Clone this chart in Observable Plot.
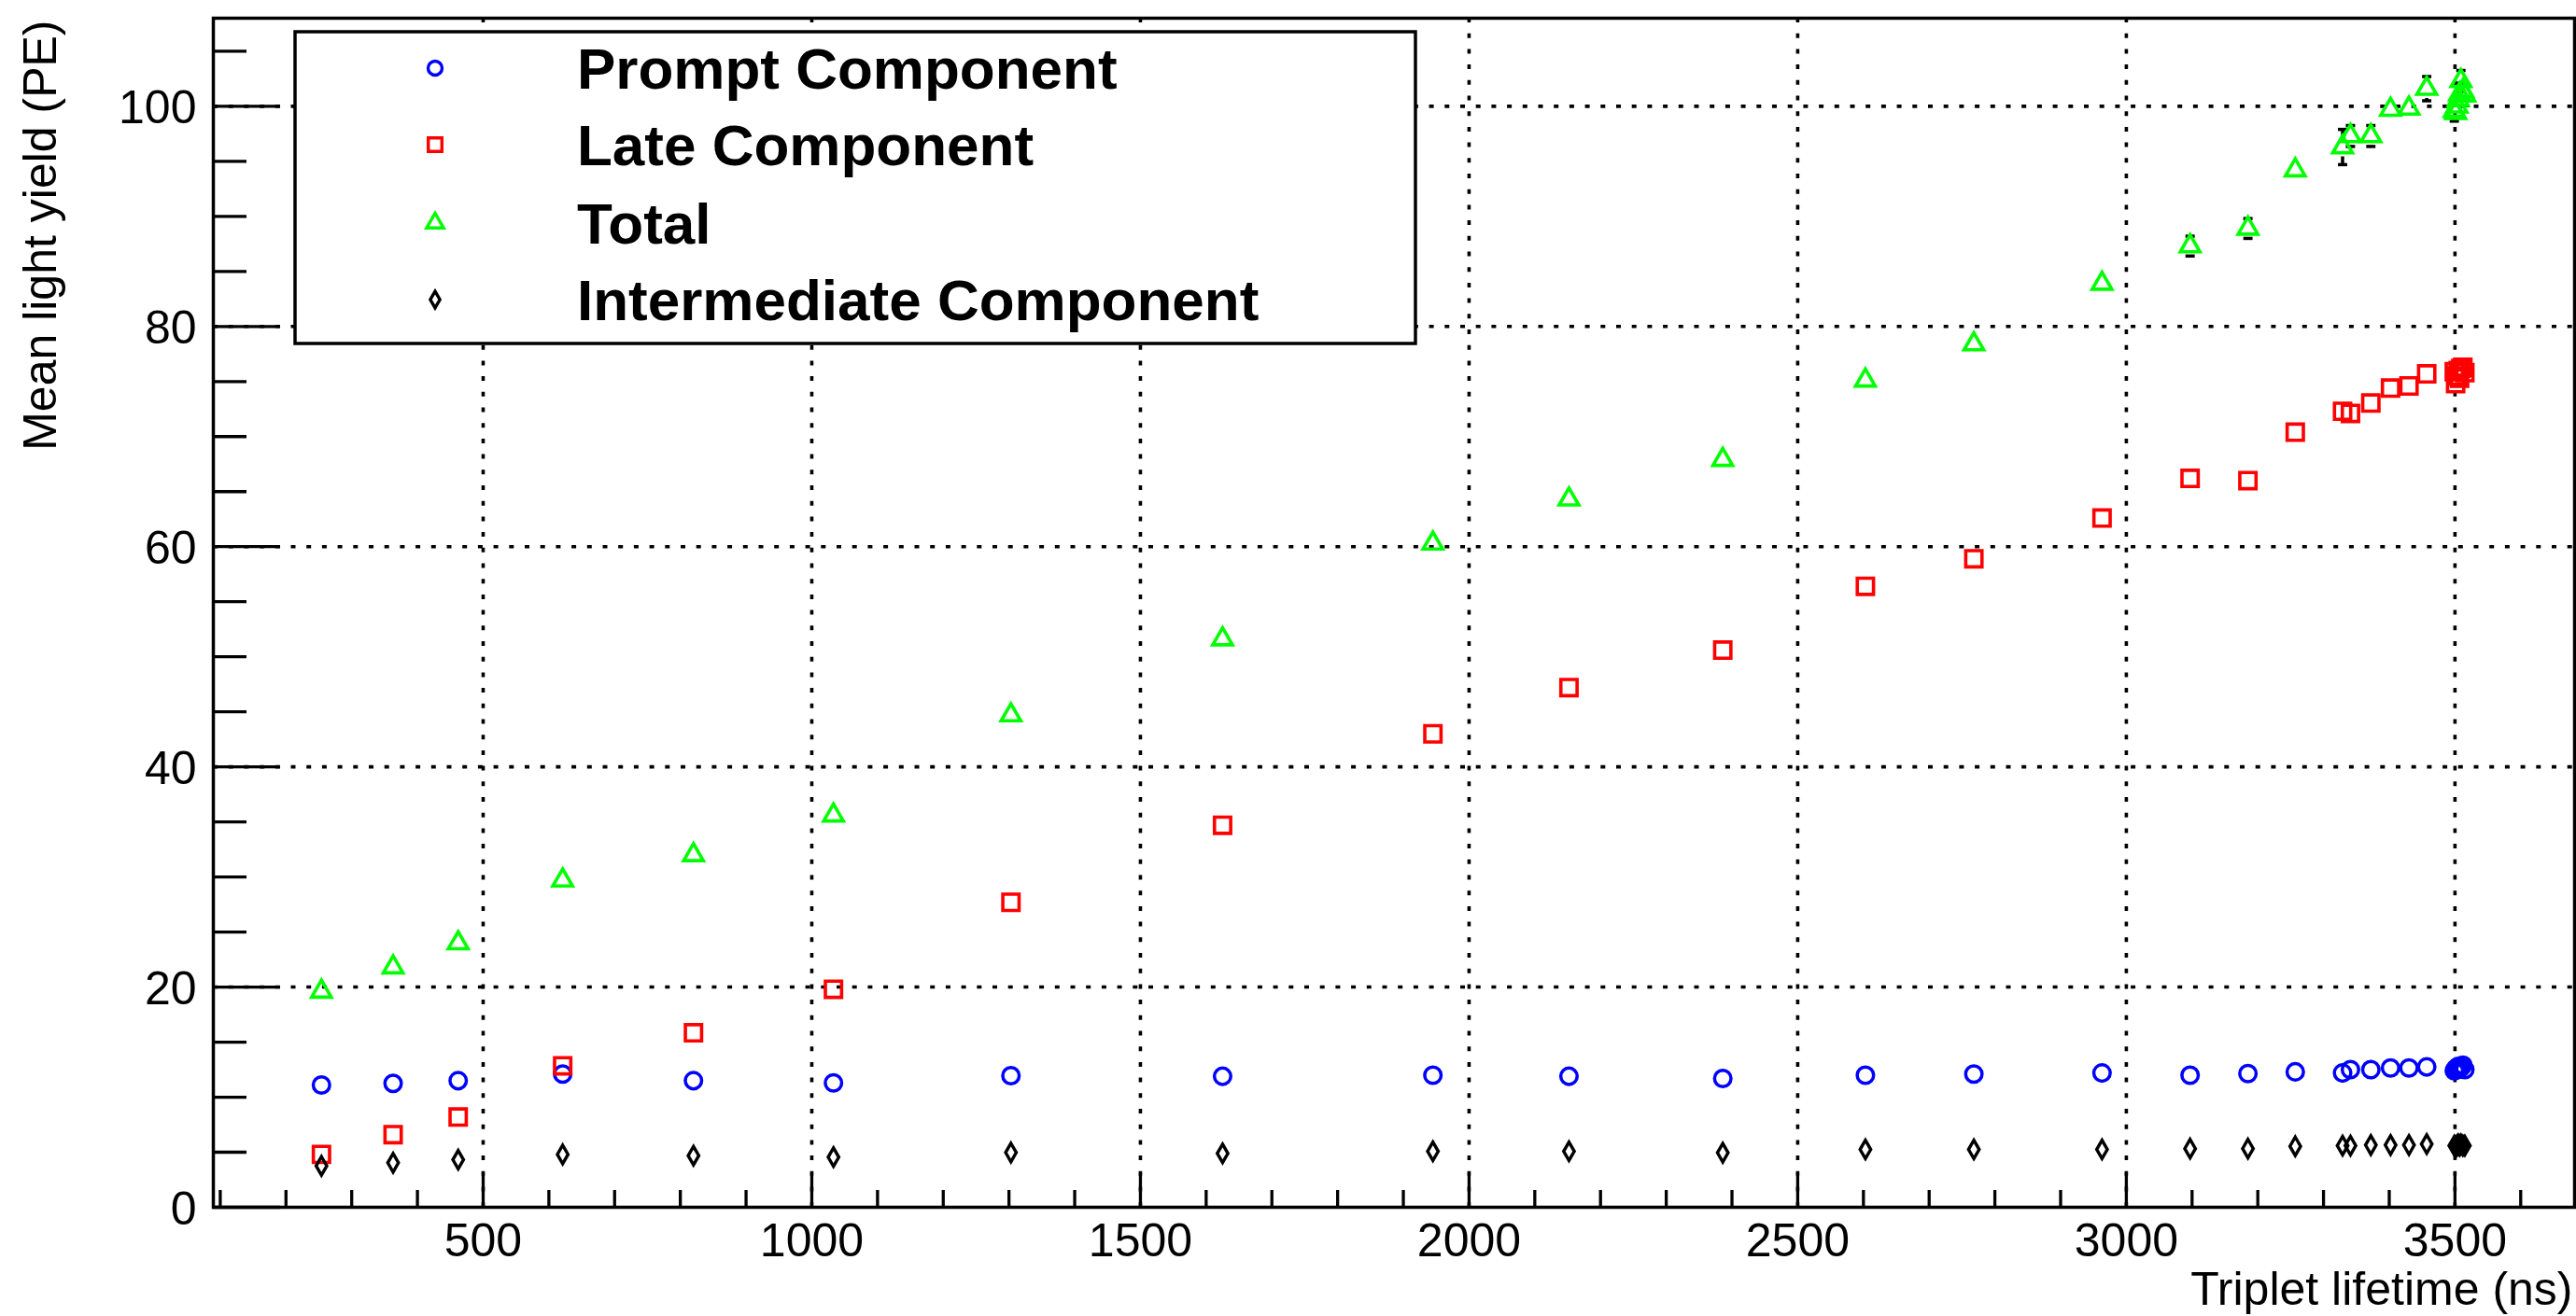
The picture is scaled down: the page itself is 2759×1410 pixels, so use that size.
<!DOCTYPE html>
<html>
<head>
<meta charset="utf-8">
<script src="https://cdn.jsdelivr.net/npm/d3@7"></script>
<script src="https://cdn.jsdelivr.net/npm/@observablehq/plot@0.6"></script>
<style>
html, body { margin: 0; padding: 0; background: #fff; }
#wrap { position: relative; width: 2759px; height: 1410px; overflow: hidden; }
#wrap svg { display: block; }
#legend { position: absolute; left: 0; top: 0; pointer-events: none; }
</style>
</head>
<body>
<div id="wrap"></div>
<script>
// ---------------- data ----------------
const lifetime = [254, 363, 462, 621, 820, 1033, 1303, 1625, 1945, 2152, 2386, 2603, 2768, 2963, 3097, 3185, 3257, 3329, 3341, 3372, 3402, 3430, 3457, 3499, 3501, 3503, 3505, 3507, 3509, 3512, 3515];
const promptYield = [11.1, 11.25, 11.5, 12.1, 11.5, 11.3, 11.95, 11.9, 12.0, 11.9, 11.7, 12.0, 12.1, 12.2, 12.0, 12.15, 12.3, 12.2, 12.5, 12.5, 12.65, 12.65, 12.75, 12.4, 12.6, 12.5, 12.8, 12.6, 12.7, 12.9, 12.5];
const lateYield = [4.8, 6.6, 8.2, 12.85, 15.85, 19.8, 27.7, 34.7, 43.0, 47.2, 50.6, 56.4, 58.9, 62.6, 66.2, 66.0, 70.4, 72.3, 72.1, 73.05, 74.4, 74.6, 75.7, 75.9, 74.8, 75.5, 76.0, 75.3, 76.2, 76.3, 75.8];
const totalYield = [19.6, 21.8, 24.0, 29.7, 32.0, 35.6, 44.7, 51.6, 60.3, 64.3, 67.9, 75.1, 78.4, 83.9, 87.3, 88.9, 94.2, 96.3, 97.3, 97.3, 99.7, 99.8, 101.6, 99.6, 99.4, 100.0, 100.6, 101.1, 102.3, 101.4, 101.0];
const totalErr = [0.3, 0.3, 0.3, 0.3, 0.3, 0.3, 0.3, 0.3, 0.3, 0.3, 0.3, 0.3, 0.3, 0.3, 0.9, 0.9, 0.4, 1.6, 0.95, 0.95, 0.5, 0.5, 1.1, 0.95, 0.8, 0.95, 0.8, 1.0, 0.95, 0.8, 0.95];
const interYield = [3.76, 4.04, 4.32, 4.8, 4.69, 4.55, 4.97, 4.89, 5.08, 5.08, 4.95, 5.25, 5.25, 5.25, 5.33, 5.33, 5.54, 5.6, 5.6, 5.65, 5.65, 5.65, 5.74, 5.6, 5.5, 5.6, 5.7, 5.6, 5.7, 5.6, 5.6];

const seriesNames = ["Prompt Component", "Late Component", "Total", "Intermediate Component"];
const seriesColors = ["#0000ff", "#ff0000", "#00ff00", "#000000"];
const seriesSymbols = ["circle", "square", "triangle", "diamond"];

const xTicks = [500, 1000, 1500, 2000, 2500, 3000, 3500];
const yTicks = [0, 20, 40, 60, 80, 100];
const xTitle = "Triplet lifetime (ns)";
const yTitle = "Mean light yield (PE)";

// ---------------- layout ----------------
const W = 2759, H = 1410;
const ML = 228, MR = 2, MT = 19, MB = 117;
const innerW = W - ML - MR, innerH = H - MT - MB;
const xDomain = [89.5, 3682];
const yDomain = [0, 108];
const xMinor = d3.range(100, 3700, 100).filter(v => v > xDomain[0] && v < xDomain[1] && v % 500 !== 0);
const yMinor = d3.range(5, 108, 5).filter(v => v % 20 !== 0);
const font = "'Liberation Sans', Arial, Helvetica, sans-serif";

const rows = lifetime.map((t, i) => ({
  t,
  prompt: promptYield[i],
  late: lateYield[i],
  total: totalYield[i],
  err: totalErr[i],
  inter: interYield[i]
}));

// error bars are not drawn inside the marker (ROOT style): gap = marker half-height in y units
const gap = 10.5 / (innerH / (yDomain[1] - yDomain[0]));
const errRows = rows.filter(d => d.err > gap);

// marker radii (Plot "r" -> symbol area pi*r^2)
const symR = {circle: 8.8, square: 9.8, triangle: 7.8, diamond: 6.0};
const capSymbol = {draw(ctx, size) { const w = Math.sqrt(size); ctx.moveTo(-w / 2, 0); ctx.lineTo(w / 2, 0); }};

const grid = {stroke: "#000", strokeWidth: 3.6, strokeDasharray: "5,11.7"};

const chart = Plot.plot({
  width: W,
  height: H,
  marginLeft: ML,
  marginRight: MR,
  marginTop: MT,
  marginBottom: MB,
  style: {fontFamily: font, background: "#fff", color: "#000", overflow: "visible"},
  x: {domain: xDomain, axis: null},
  y: {domain: yDomain, axis: null},
  marks: [
    // dotted grid
    Plot.ruleX(xTicks, {x: d => d, ...grid}),
    Plot.ruleY(yTicks.filter(v => v > 0), {y: d => d, ...grid}),
    // inward ticks
    Plot.ruleX(xTicks, {x: d => d, insetTop: innerH - 37, stroke: "#000", strokeWidth: 3.3}),
    Plot.ruleX(xMinor, {x: d => d, insetTop: innerH - 18, stroke: "#000", strokeWidth: 3.3}),
    Plot.ruleY(yTicks, {y: d => d, insetRight: innerW - 72, stroke: "#000", strokeWidth: 3.3}),
    Plot.ruleY(yMinor, {y: d => d, insetRight: innerW - 36, stroke: "#000", strokeWidth: 3.3}),
    Plot.frame({stroke: "#000", strokeWidth: 3.5}),
    // tick labels
    Plot.text(xTicks, {x: d => d, frameAnchor: "bottom", lineAnchor: "bottom", dy: 52, text: d => String(d), fontSize: 50, fill: "#000"}),
    Plot.text(yTicks, {y: d => d, frameAnchor: "left", textAnchor: "end", lineAnchor: "middle", dx: -18, dy: 2, text: d => String(d), fontSize: 50, fill: "#000"}),
    // axis titles
    Plot.text([xTitle], {frameAnchor: "bottom-right", textAnchor: "end", lineAnchor: "bottom", dx: -2, dy: 104, text: d => d, fontSize: 50, fill: "#000"}),
    Plot.text([yTitle], {frameAnchor: "top-left", textAnchor: "end", lineAnchor: "bottom", rotate: -90, dx: -169, dy: 2, text: d => d, fontSize: 50, fill: "#000"}),
    // series
    Plot.dot(rows, {x: "t", y: "prompt", symbol: seriesSymbols[0], r: symR.circle, fill: "none", stroke: seriesColors[0], strokeWidth: 3.5}),
    Plot.dot(rows, {x: "t", y: "late", symbol: seriesSymbols[1], r: symR.square, fill: "none", stroke: seriesColors[1], strokeWidth: 3.6}),
    Plot.ruleX(errRows, {x: "t", y1: d => d.total + gap, y2: d => d.total + d.err, stroke: "#000", strokeWidth: 3.5}),
    Plot.ruleX(errRows, {x: "t", y1: d => d.total - gap, y2: d => d.total - d.err, stroke: "#000", strokeWidth: 3.5}),
    Plot.dot(errRows, {x: "t", y: d => d.total + d.err, symbol: capSymbol, r: 5.6, stroke: "#000", strokeWidth: 3.5, fill: "none"}),
    Plot.dot(errRows, {x: "t", y: d => d.total - d.err, symbol: capSymbol, r: 5.6, stroke: "#000", strokeWidth: 3.5, fill: "none"}),
    Plot.dot(rows, {x: "t", y: "total", symbol: seriesSymbols[2], r: symR.triangle, fill: "none", stroke: seriesColors[2], strokeWidth: 3.6}),
    Plot.dot(rows, {x: "t", y: "inter", symbol: seriesSymbols[3], r: symR.diamond, fill: "none", stroke: seriesColors[3], strokeWidth: 3.4})
  ]
});

const wrap = document.getElementById("wrap");
wrap.appendChild(chart);

// ---------------- legend (overlay inside the frame) ----------------
const legend = d3.select(wrap).append("svg")
  .attr("id", "legend")
  .attr("width", W)
  .attr("height", H);

const box = {x: 316, y: 34, w: 1200, h: 334};
legend.append("rect")
  .attr("x", box.x).attr("y", box.y).attr("width", box.w).attr("height", box.h)
  .attr("fill", "#fff").attr("stroke", "#000").attr("stroke-width", 3.5);

const symbolMap = {circle: d3.symbolCircle, square: d3.symbolSquare, triangle: d3.symbolTriangle, diamond: d3.symbolDiamond};
const legendR = {circle: 7.5, square: 8.2, triangle: 6.8, diamond: 5.4};
const rowCenters = [73, 155, 239, 321];
seriesNames.forEach((name, i) => {
  const s = seriesSymbols[i];
  const r = legendR[s];
  legend.append("path")
    .attr("d", d3.symbol(symbolMap[s], Math.PI * r * r)())
    .attr("transform", `translate(${box.x + 150},${rowCenters[i]})`)
    .attr("fill", "none")
    .attr("stroke", seriesColors[i])
    .attr("stroke-width", 3.4);
  legend.append("text")
    .attr("x", box.x + 302)
    .attr("y", rowCenters[i] + 22)
    .attr("font-family", font)
    .attr("font-weight", "bold")
    .attr("font-size", 62)
    .attr("fill", "#000")
    .text(name);
});
</script>
</body>
</html>
